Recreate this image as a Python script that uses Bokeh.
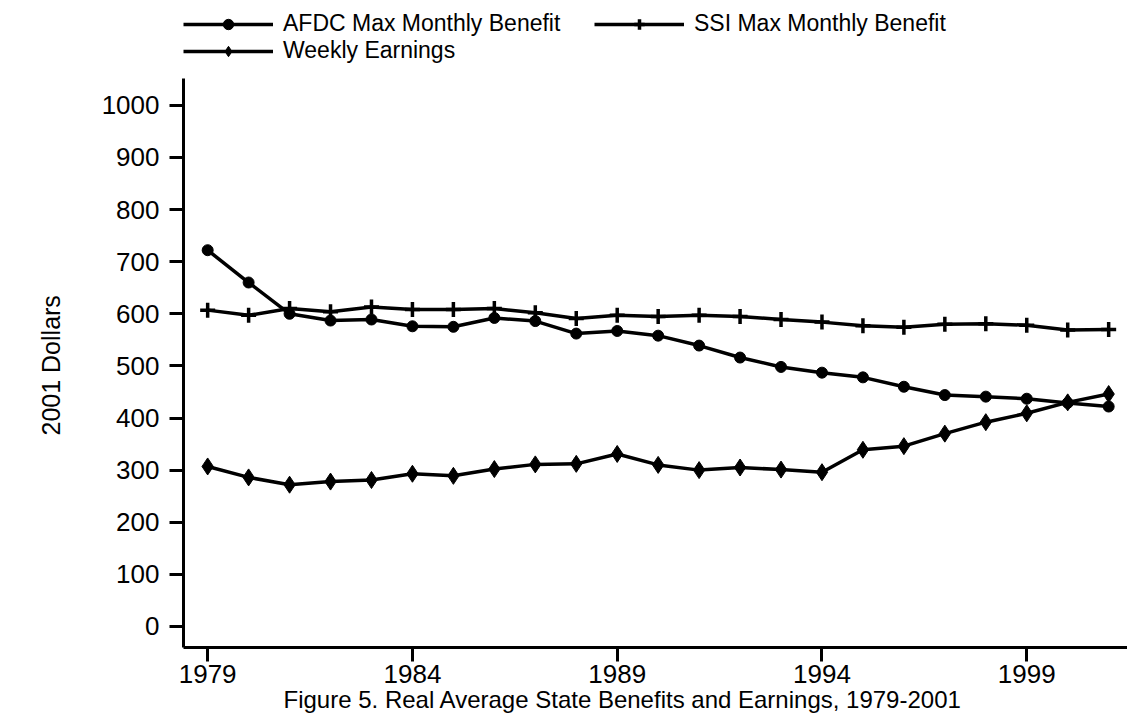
from bokeh.plotting import figure
from bokeh.models import Range1d, Legend, LegendItem, Title, FixedTicker
from bokeh.embed import file_html
from bokeh.resources import INLINE

years = list(range(1979, 2002))
afdc = [722, 660, 600, 587, 589, 576, 575, 592, 586, 562, 567, 558, 539, 516,
        498, 487, 478, 460, 444, 441, 437, 429, 422]
ssi = [607, 597, 610, 604, 613, 608, 608, 610, 602, 591, 597, 595, 597, 595,
       589, 584, 577, 574, 580, 581, 578, 569, 570]
weekly = [307, 286, 272, 278, 281, 293, 289, 302, 311, 312, 331, 310, 300, 305,
          301, 296, 339, 346, 370, 392, 409, 430, 446]
series_names = ["AFDC Max Monthly Benefit", "SSI Max Monthly Benefit", "Weekly Earnings"]
x_ticks = [1979, 1984, 1989, 1994, 1999]
y_ticks = list(range(0, 1001, 100))
y_label = "2001 Dollars"
caption = "Figure 5. Real Average State Benefits and Earnings, 1979-2001"

FONT = "Liberation Sans"
H = 719
BOTTOM = 72
FRAME_H = H - BOTTOM          # frame reaches the top edge of the canvas
AXIS_TOP_PX = 78              # where the y axis line should end
Y_LO, Y_HI = -40.4, 1051.5    # visible axis extent
scale = (FRAME_H - AXIS_TOP_PX) / (Y_HI - Y_LO)
Y_RANGE_TOP = Y_HI + AXIS_TOP_PX / scale

p = figure(width=1127, height=H,
           x_range=Range1d(1978.41, 2001.46), y_range=Range1d(Y_LO, Y_RANGE_TOP),
           output_backend="svg", toolbar_location=None,
           min_border_left=183, min_border_right=0, min_border_top=0,
           min_border_bottom=BOTTOM)
p.outline_line_color = None
p.xgrid.visible = False
p.ygrid.visible = False
p.background_fill_color = "white"
p.border_fill_color = "white"

LW = 3.5
r1 = p.line(years, afdc, line_color="black", line_width=LW)
m1 = p.scatter(years, afdc, marker="circle", size=11, fill_color="black", line_color="black")
r2 = p.line(years, ssi, line_color="black", line_width=LW)
m2 = p.scatter(years, ssi, marker="cross", size=15, line_color="black", line_width=3.5)
r3 = p.line(years, weekly, line_color="black", line_width=LW)
m3 = p.scatter(years, weekly, marker="diamond", size=17, fill_color="black", line_color="black")

for ax in (p.xaxis[0], p.yaxis[0]):
    ax.axis_line_width = 3
    ax.axis_line_color = "black"
    ax.major_tick_line_width = 3
    ax.major_tick_line_color = "black"
    ax.major_tick_out = 14
    ax.major_tick_in = 0
    ax.minor_tick_line_color = None
    ax.major_label_text_font = FONT
    ax.major_label_text_font_size = "26px"
    ax.major_label_text_color = "black"

p.yaxis.bounds = (Y_LO, Y_HI)
p.xaxis.ticker = FixedTicker(ticks=x_ticks)
p.yaxis.ticker = FixedTicker(ticks=y_ticks)
p.xaxis.major_label_standoff = 3
p.yaxis.major_label_standoff = 10

# y-axis title as a side title so it can be centred on the visible axis
ytitle = Title(text=y_label, align="left", offset=FRAME_H - 435,
               text_font=FONT, text_font_size="25px", text_font_style="normal",
               text_color="black", standoff=67)
p.add_layout(ytitle, "left")

# column-major filling: col 1 = AFDC, Weekly ; col 2 = SSI
legend = Legend(items=[
    LegendItem(label=series_names[0], renderers=[r1, m1]),
    LegendItem(label=series_names[2], renderers=[r3, m3]),
    LegendItem(label=series_names[1], renderers=[r2, m2]),
], ncols=2, location=(0, FRAME_H - 64))
legend.glyph_width = 90
legend.glyph_height = 26
legend.label_height = 26
legend.label_standoff = 10
legend.label_width = 311
legend.spacing = 0
legend.padding = 0
legend.margin = 0
legend.border_line_color = None
legend.background_fill_alpha = 0
legend.label_text_font = FONT
legend.label_text_font_size = "23px"
legend.label_text_color = "black"
p.add_layout(legend, "center")

t = Title(text=caption, align="left", offset=100, text_font=FONT,
          text_font_size="24px", text_font_style="normal", text_color="black",
          standoff=-4)
p.add_layout(t, "below")

open("out.html", "w").write(file_html(p, INLINE))
